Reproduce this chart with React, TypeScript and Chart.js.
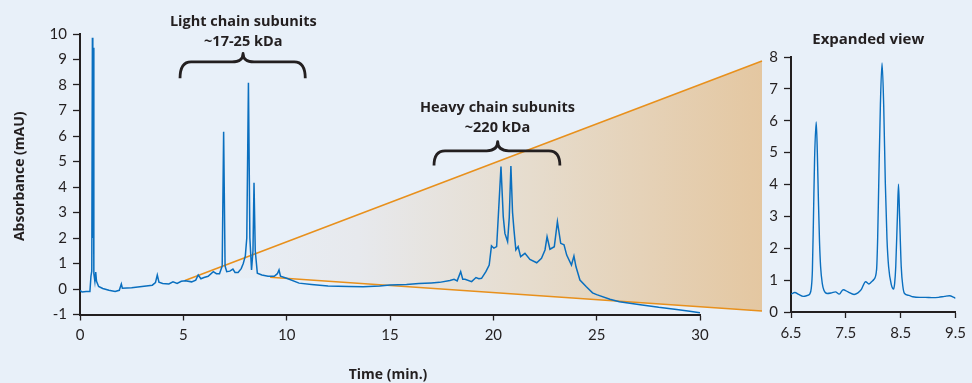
import React, { useEffect, useRef } from 'react';
import { Chart, registerables } from 'chart.js';

Chart.register(...registerables);

// ---------- data ----------
const MAIN_TIME = [
  0.0, 0.1, 0.3, 0.48, 0.53, 0.57, 0.6, 0.62, 0.64, 0.67, 0.72, 0.76, 0.8, 0.9, 1.1, 1.4, 1.7, 1.9, 2.0, 2.05,
  2.5, 3.0, 3.5, 3.65, 3.74, 3.82, 4.0, 4.3, 4.5, 4.7, 4.9, 5.1, 5.4, 5.6, 5.72, 5.85, 6.0, 6.2, 6.45, 6.6,
  6.75, 6.88, 6.95, 7.02, 7.1, 7.25, 7.4, 7.5, 7.65, 7.8, 7.9, 8.0, 8.07, 8.15, 8.22, 8.3, 8.37, 8.42, 8.48, 8.58,
  8.8, 9.1, 9.4, 9.55, 9.63, 9.7, 10.0, 10.6, 11.2, 12.0, 13.0, 13.7, 14.5, 15.0, 15.8, 16.4, 17.0, 17.4, 17.9, 18.1,
  18.25, 18.42, 18.52, 18.63, 18.95, 19.16, 19.3, 19.43, 19.64, 19.8, 19.91, 20.03, 20.16, 20.24, 20.37, 20.48, 20.56, 20.69, 20.77, 20.85,
  20.93, 21.0, 21.09, 21.2, 21.32, 21.53, 21.77, 22.1, 22.33, 22.5, 22.6, 22.74, 22.95, 23.1, 23.26, 23.42, 23.55, 23.78, 23.9, 24.0,
  24.19, 24.5, 24.8, 25.0, 25.64, 26.1, 27.2, 28.0, 28.87, 29.5, 30.0,
];
const MAIN_ABS = [
  -0.05, -0.12, -0.1, -0.1, 0.5, 0.7, 9.85, 2.0, 9.46, 0.6, 0.3, 0.66, 0.3, 0.1, 0.02, -0.05, -0.1, -0.05, 0.2, 0.03,
  0.05, 0.1, 0.15, 0.25, 0.55, 0.27, 0.22, 0.2, 0.28, 0.22, 0.3, 0.32, 0.28, 0.35, 0.55, 0.4, 0.45, 0.5, 0.68, 0.6,
  0.6, 0.9, 6.17, 0.9, 0.68, 0.7, 0.78, 0.65, 0.65, 0.8, 1.0, 1.3, 2.0, 8.09, 2.0, 0.75, 1.5, 4.17, 1.5, 0.62,
  0.55, 0.5, 0.5, 0.6, 0.75, 0.5, 0.42, 0.23, 0.18, 0.12, 0.1, 0.09, 0.12, 0.16, 0.18, 0.22, 0.24, 0.26, 0.33, 0.38,
  0.32, 0.68, 0.38, 0.38, 0.29, 0.45, 0.4, 0.42, 0.68, 0.94, 1.69, 1.6, 1.66, 2.84, 4.8, 2.84, 2.18, 1.86, 2.8, 4.82,
  3.0, 2.31, 1.53, 1.66, 1.27, 1.4, 1.16, 1.03, 1.2, 1.53, 2.05, 1.56, 1.66, 2.64, 1.79, 1.73, 1.33, 0.94, 1.29, 0.87,
  0.35, 0.09, -0.15, -0.22, -0.4, -0.5, -0.63, -0.72, -0.8, -0.87, -0.93,
];

const INSET_TIME = [
  6.5, 6.57, 6.64, 6.72, 6.8, 6.84, 6.87, 6.89, 6.91, 6.93, 6.96, 6.98, 7.0, 7.02, 7.04, 7.07, 7.1, 7.16, 7.24, 7.31,
  7.38, 7.45, 7.54, 7.65, 7.72, 7.78, 7.86, 7.92, 7.97, 8.01, 8.06, 8.08, 8.1, 8.13, 8.16, 8.19, 8.22, 8.25, 8.28, 8.33,
  8.37, 8.39, 8.41, 8.44, 8.46, 8.48, 8.51, 8.54, 8.57, 8.65, 8.72, 8.85, 8.95, 9.07, 9.19, 9.3, 9.39, 9.46, 9.5,
];
const INSET_ABS = [
  0.56, 0.61, 0.55, 0.49, 0.52, 0.56, 0.75, 1.3, 2.99, 4.8, 5.96, 5.0, 3.5, 2.2, 1.42, 0.9, 0.68, 0.58, 0.6, 0.63,
  0.56, 0.7, 0.63, 0.55, 0.6, 0.7, 0.95, 0.88, 0.95, 1.02, 1.32, 2.3, 4.03, 6.5, 7.81, 6.5, 4.04, 2.3, 1.42, 0.85,
  0.72, 0.9, 1.42, 3.0, 4.01, 3.0, 1.42, 0.8, 0.58, 0.52, 0.48, 0.46, 0.46, 0.45, 0.46, 0.49, 0.51, 0.47, 0.43,
];

const MAIN_X_TICKS = [0, 5, 10, 15, 20, 25, 30];
const MAIN_Y_TICKS = [-1, 0, 1, 2, 3, 4, 5, 6, 7, 8, 9, 10];
const INSET_X_TICKS = [6.5, 7.5, 8.5, 9.5];
const INSET_Y_TICKS = [0, 1, 2, 3, 4, 5, 6, 7, 8];

const X_TITLE = 'Time (min.)';
const Y_TITLE = 'Absorbance (mAU)';
const INSET_TITLE = 'Expanded view';

// annotations (in main-chart data units)
const BRACES = [
  { from: 4.84, to: 10.9, mid: 7.89, tip: 9.24, bar: 8.91, end: 8.26, lines: ['Light chain subunits', '~17-25 kDa'], textY: [10.47, 9.69], textX: 7.9 },
  { from: 17.13, to: 23.22, mid: 20.21, tip: 5.78, bar: 5.42, end: 4.84, lines: ['Heavy chain subunits', '~220 kDa'], textY: [7.1, 6.31], textX: 20.2 },
];
const WEDGE = { topLeftT: 5.08, topLeftV: 0.33, bottomLeftT: 9.2, bottomLeftV: 0.46, rightT: 33.0, rightTopV: 8.94, rightBottomV: -0.86 };

// ---------- style ----------
const BG = '#e8f0f9';
const INK = '#231f20';
const BLUE = '#0a6fbf';
const ORANGE = '#e8901c';
const FONT = 'Lato, "Open Sans", sans-serif';
const TITLE_FONT = '"Open Sans", Lato, sans-serif';

const tickFont = { family: FONT, size: 15 };

function makeAxes(xTicks: number[], yTicks: number[], xMin: number, xMax: number, yMin: number, yMax: number, yWidth: number, xHeight: number, tl: number) {
  return {
    x: {
      type: 'linear',
      min: xMin,
      max: xMax,
      afterBuildTicks: (s: any) => { s.ticks = xTicks.map((v) => ({ value: v })); },
      afterFit: (s: any) => { s.height = xHeight; },
      ticks: { color: INK, font: tickFont, padding: 6, maxRotation: 0, autoSkip: false, callback: (v: any) => String(v) },
      grid: { drawOnChartArea: false, drawTicks: true, tickLength: 6, color: INK, tickWidth: 1.3 },
      border: { display: true, color: INK, width: 2 },
    },
    y: {
      type: 'linear',
      min: yMin,
      max: yMax,
      afterBuildTicks: (s: any) => { s.ticks = yTicks.map((v) => ({ value: v })); },
      afterFit: (s: any) => { s.width = yWidth; },
      ticks: { color: INK, font: tickFont, padding: 6, autoSkip: false, callback: (v: any) => String(v) },
      grid: { drawOnChartArea: false, drawTicks: true, tickLength: tl, color: INK, tickWidth: 1.3 },
      border: { display: true, color: INK, width: 2 },
    },
  };
}

const mainDecor = {
  id: 'mainDecor',
  beforeDatasetsDraw(chart: any) {
    const { ctx, scales } = chart;
    const xs = scales.x, ys = scales.y;
    const tlx = xs.getPixelForValue(WEDGE.topLeftT), tly = ys.getPixelForValue(WEDGE.topLeftV);
    const blx = xs.getPixelForValue(WEDGE.bottomLeftT), bly = ys.getPixelForValue(WEDGE.bottomLeftV);
    const rx = xs.getPixelForValue(WEDGE.rightT);
    const rty = ys.getPixelForValue(WEDGE.rightTopV), rby = ys.getPixelForValue(WEDGE.rightBottomV);
    ctx.save();
    const g = ctx.createLinearGradient(tlx, 0, rx, 0);
    g.addColorStop(0, 'rgba(232,240,249,1)');
    g.addColorStop(0.3, '#e7e9ed');
    g.addColorStop(0.6, '#e6dccd');
    g.addColorStop(1, '#e4c7a1');
    ctx.fillStyle = g;
    ctx.beginPath();
    ctx.moveTo(tlx, tly);
    ctx.lineTo(rx, rty);
    ctx.lineTo(rx, rby);
    ctx.lineTo(blx, bly);
    ctx.closePath();
    ctx.fill();
    ctx.strokeStyle = ORANGE;
    ctx.lineWidth = 1.6;
    ctx.beginPath();
    ctx.moveTo(tlx, tly);
    ctx.lineTo(rx, rty);
    ctx.moveTo(blx, bly);
    ctx.lineTo(rx, rby);
    ctx.stroke();
    ctx.restore();
  },
  afterDraw(chart: any) {
    const { ctx, scales, chartArea } = chart;
    const xs = scales.x, ys = scales.y;
    ctx.save();
    ctx.strokeStyle = INK;
    ctx.lineWidth = 2.8;
    ctx.lineJoin = 'round';
    const r = 11;
    BRACES.forEach((b) => {
      const x0 = xs.getPixelForValue(b.from), x1 = xs.getPixelForValue(b.to), xc = xs.getPixelForValue(b.mid);
      const yt = ys.getPixelForValue(b.tip), yb = ys.getPixelForValue(b.bar), ye = ys.getPixelForValue(b.end);
      ctx.beginPath();
      ctx.moveTo(x0, ye);
      ctx.quadraticCurveTo(x0, yb, x0 + r, yb);
      ctx.lineTo(xc - r, yb);
      ctx.quadraticCurveTo(xc, yb, xc, yt);
      ctx.quadraticCurveTo(xc, yb, xc + r, yb);
      ctx.lineTo(x1 - r, yb);
      ctx.quadraticCurveTo(x1, yb, x1, ye);
      ctx.stroke();
      ctx.fillStyle = INK;
      ctx.font = `bold 14.5px ${TITLE_FONT}`;
      ctx.textAlign = 'center';
      ctx.textBaseline = 'middle';
      b.lines.forEach((ln, i) => {
        ctx.fillText(ln, xs.getPixelForValue(b.textX), ys.getPixelForValue(b.textY[i]));
      });
    });
    // axis titles
    ctx.fillStyle = INK;
    ctx.font = `bold 14px ${TITLE_FONT}`;
    ctx.textAlign = 'center';
    ctx.textBaseline = 'middle';
    ctx.fillText(X_TITLE, (chartArea.left + chartArea.right) / 2 - 2, 375);
    ctx.translate(20, (chartArea.top + chartArea.bottom) / 2 + 2);
    ctx.rotate(-Math.PI / 2);
    ctx.fillText(Y_TITLE, 0, 0);
    ctx.restore();
  },
};

const insetDecor = {
  id: 'insetDecor',
  afterDraw(chart: any) {
    const { ctx, chartArea } = chart;
    ctx.save();
    ctx.fillStyle = INK;
    ctx.font = `bold 15px ${TITLE_FONT}`;
    ctx.textAlign = 'center';
    ctx.textBaseline = 'middle';
    ctx.fillText(INSET_TITLE, (chartArea.left + chartArea.right) / 2 - 5, 40);
    ctx.restore();
  },
};

export default function App() {
  const mainRef = useRef<HTMLCanvasElement>(null);
  const insetRef = useRef<HTMLCanvasElement>(null);

  useEffect(() => {
    const main = new Chart(mainRef.current as HTMLCanvasElement, {
      type: 'line',
      data: {
        datasets: [{
          data: MAIN_TIME.map((t, i) => ({ x: t, y: MAIN_ABS[i] })),
          borderColor: BLUE,
          borderWidth: 1.5,
          pointRadius: 0,
          tension: 0,
          fill: false,
        }],
      },
      options: {
        responsive: false,
        devicePixelRatio: 1,
        animation: false,
        layout: { padding: { left: 0, right: 272, top: 34, bottom: 0 } },
        plugins: { legend: { display: false }, tooltip: { enabled: false }, title: { display: false } },
        scales: makeAxes(MAIN_X_TICKS, MAIN_Y_TICKS, 0, 30, -1, 10, 80, 68.5, 7) as any,
      },
      plugins: [mainDecor],
    } as any);

    const inset = new Chart(insetRef.current as HTMLCanvasElement, {
      type: 'line',
      data: {
        datasets: [{
          data: INSET_TIME.map((t, i) => ({ x: t, y: INSET_ABS[i] })),
          borderColor: BLUE,
          borderWidth: 1.4,
          pointRadius: 0,
          cubicInterpolationMode: 'monotone',
          fill: false,
        }],
      },
      options: {
        responsive: false,
        devicePixelRatio: 1,
        animation: false,
        layout: { padding: { left: 740, right: 11, top: 57, bottom: 0 } },
        plugins: { legend: { display: false }, tooltip: { enabled: false }, title: { display: false } },
        scales: makeAxes(INSET_X_TICKS, INSET_Y_TICKS, 6.5, 9.5, 0, 8, 51, 71, 7) as any,
      },
      plugins: [insetDecor],
    } as any);

    return () => {
      main.destroy();
      inset.destroy();
    };
  }, []);

  const canvasStyle: React.CSSProperties = { position: 'absolute', left: 0, top: 0, width: 972, height: 383 };
  return (
    <div style={{ position: 'fixed', left: 0, top: 0, width: 972, height: 383, background: BG, overflow: 'hidden' }}>
      <canvas ref={mainRef} width={972} height={383} style={canvasStyle} />
      <canvas ref={insetRef} width={972} height={383} style={canvasStyle} />
    </div>
  );
}
